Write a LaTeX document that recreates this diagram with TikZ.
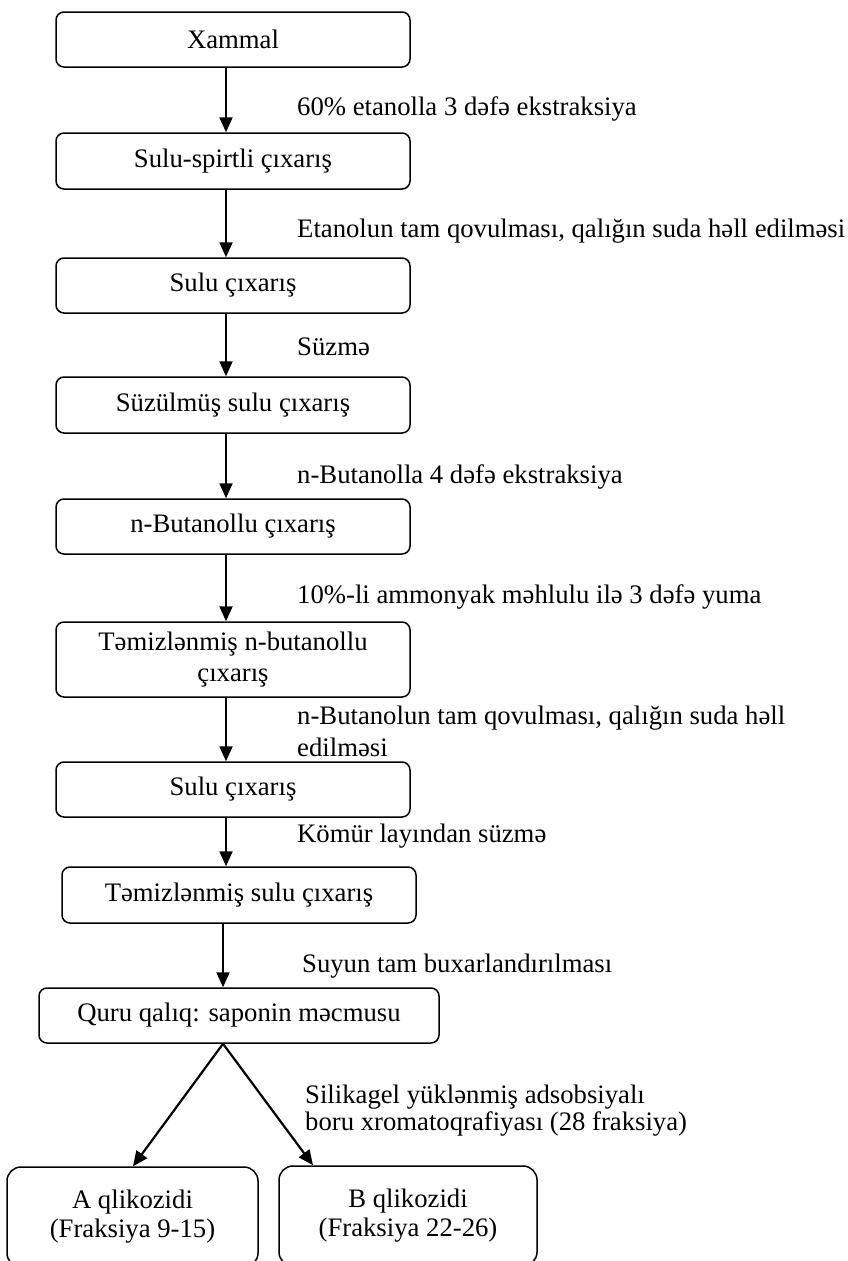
\documentclass[tikz,border=0pt]{standalone}
\usepackage{fontspec}
\setmainfont{Liberation Serif}
\usetikzlibrary{arrows.meta}
\begin{document}
\begin{tikzpicture}[x=1pt,y=-1pt,
  box/.style={draw, line width=1.5pt, rounded corners=8pt, inner sep=0pt, align=center,
    minimum width=354pt, minimum height=55pt, font=\fontsize{26.7}{31}\selectfont},
  bigbox/.style={box, rounded corners=14pt, minimum height=100pt, font=\fontsize{26.7}{29}\selectfont},
  lbl/.style={anchor=base west, inner sep=0pt, align=left, font=\fontsize{26.7}{32}\selectfont},
  arr/.style={line width=2.2pt, -{Triangle[length=15pt,width=13pt]}}]
\useasboundingbox (0,0) rectangle (848,1261);
\clip (0,0) rectangle (848,1261);
% boxes
\node[box] (n1) at (233,39.5) {Xammal};
\node[box, minimum height=56pt] (n2) at (233,161) {Sulu-spirtli çıxarış};
\node[box] (n3) at (233,285.5) {Sulu çıxarış};
\node[box, minimum height=56pt] (n4) at (233,405) {Süzülmüş sulu çıxarış};
\node[box] (n5) at (233,526.5) {n-Butanollu çıxarış};
\node[box, minimum height=75pt] (n6) at (233,659.5) {Təmizlənmiş n-butanollu\\çıxarış};
\node[box] (n7) at (233,789.5) {Sulu çıxarış};
\node[box, minimum height=56pt] (n8) at (239,895) {Təmizlənmiş sulu çıxarış};
\node[box, minimum width=400pt] (n9) at (239,1015.5) {Quru qalıq: saponin məcmusu};
\node[bigbox, minimum width=251pt] (na) at (132.5,1217) {A qlikozidi\\(Fraksiya 9-15)};
\node[bigbox, minimum width=258pt] (nb) at (408,1216) {B qlikozidi\\(Fraksiya 22-26)};
% connectors
\draw[arr] ([xshift=-7pt]n1.south) -- ([xshift=-7pt]n2.north);
\draw[arr] ([xshift=-7pt]n2.south) -- ([xshift=-7pt]n3.north);
\draw[arr] ([xshift=-7pt]n3.south) -- ([xshift=-7pt]n4.north);
\draw[arr] ([xshift=-7pt]n4.south) -- ([xshift=-7pt]n5.north);
\draw[arr] ([xshift=-7pt]n5.south) -- ([xshift=-7pt]n6.north);
\draw[arr] ([xshift=-7pt]n6.south) -- ([xshift=-7pt]n7.north);
\draw[arr] ([xshift=-7pt]n7.south) -- ([xshift=-13pt]n8.north);
\draw[arr] ([xshift=-16pt]n8.south) -- ([xshift=-16pt]n9.north);
\draw[arr] ([xshift=-16pt]n9.south) -- ([xshift=0.5pt]na.north);
\draw[arr] ([xshift=-16pt]n9.south) -- ([xshift=-95pt]nb.north);
% labels
\node[lbl] (l1) at (297,115) {60\% etanolla 3 dəfə ekstraksiya};
\node[lbl] (l2) at (297,237) {Etanolun tam qovulması, qalığın suda həll edilməsi};
\node[lbl] (l3) at (297,355) {Süzmə};
\node[lbl] (l4) at (297,483) {n-Butanolla 4 dəfə ekstraksiya};
\node[lbl] (l5) at (297,603) {10\%-li ammonyak məhlulu ilə 3 dəfə yuma};
\node[lbl] (l6) at (297,756) {n-Butanolun tam qovulması, qalığın suda həll\\edilməsi};
\node[lbl] (l7) at (297,842) {Kömür layından süzmə};
\node[lbl] (l8) at (302,972) {Suyun tam buxarlandırılması};
\node[lbl, font=\fontsize{26.7}{27}\selectfont] (l9) at (305,1130) {Silikagel yüklənmiş adsobsiyalı\\boru xromatoqrafiyası (28 fraksiya)};
\end{tikzpicture}
\end{document}
